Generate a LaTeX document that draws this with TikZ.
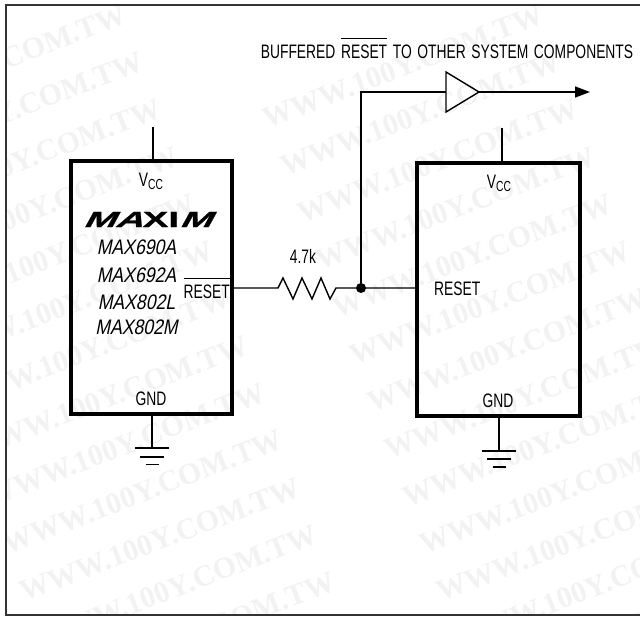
\documentclass[tikz,border=0pt]{standalone}
\usepackage{fontspec}
\setmainfont[FakeStretch=0.71]{Liberation Sans}
\newfontfamily\partfont[FakeStretch=0.84,FakeSlant=0.2]{Liberation Sans}
\newfontfamily\markfont{Liberation Serif}
\newfontfamily\logofont[FakeStretch=1.75,FakeBold=1]{Liberation Sans}
\newfontfamily\logoslant[FakeStretch=1.75,FakeBold=1,FakeSlant=0.55]{Liberation Sans}
\usetikzlibrary{arrows.meta}
\usetikzlibrary{calc}
\newcommand{\barred}[1]{$\overline{\mbox{\rule{0pt}{19pt}#1}}$}
\newcommand{\vcclabel}{V\raisebox{-2.5pt}{\fontsize{14.5}{15}\selectfont CC}}
\tikzset{
    wire/.style={line width=1.4pt},
    icbox/.style={draw, line width=4pt, minimum width=161pt, minimum height=253pt, outer sep=0pt, inner sep=0pt},
    lbl/.style={anchor=base, inner sep=0pt, font=\fontsize{19.5}{20}\selectfont},
    partlbl/.style={lbl, font=\fontsize{21}{22}\selectfont\partfont},
    wmark/.style={anchor=base east, rotate=21, inner sep=0pt, text=black!5, font=\fontsize{30}{31}\selectfont\markfont\bfseries}
}
\begin{document}
\begin{tikzpicture}[x=1pt,y=-1pt]
    \useasboundingbox (0,0) rectangle (640,616);
    \begin{scope}
        \clip (6,5) rectangle (640,615);
        \foreach \r in {-9,...,4}
            \foreach \c in {0,1,2}
                \node[wmark] at ({285+\c*417+\r*17.4},{448+\r*47.3}) {WWW.100Y.COM.TW};
    \end{scope}
    \draw[line width=2pt, black!80] (640,5)--(6,5)--(6,615)--(640,615);
    % the two chips
    \node[icbox] (maxchip) at (151.5,287.5) {};
    \node[icbox, minimum width=163pt] (syschip) at (498.5,289.5) {};
    % supply stubs
    \coordinate (vcca) at (153,127);
    \coordinate (vccb) at (502,128);
    \coordinate (gnda) at (152,448);
    \coordinate (gndb) at (499,451);
    \draw[wire] (vcca)--(vcca |- maxchip.north);
    \draw[wire] (vccb)--(vccb |- syschip.north);
    \draw[wire] (gnda |- maxchip.south)--(gnda);
    \draw[wire] (gndb |- syschip.south)--(gndb);
    \draw[wire] ($(gnda)+(-17,0)$)--($(gnda)+(17,0)$);
    \draw[wire] ($(gnda)+(-12,9)$)--($(gnda)+(12,9)$);
    \draw[wire] ($(gnda)+(-6.5,16.5)$)--($(gnda)+(6.5,16.5)$);
    \draw[wire] ($(gndb)+(-17,0)$)--($(gndb)+(17,0)$);
    \draw[wire] ($(gndb)+(-12,8)$)--($(gndb)+(12,8)$);
    \draw[wire] ($(gndb)+(-6.5,16)$)--($(gndb)+(6.5,16)$);
    % reset line with resistor
    \coordinate (resin) at (278,288);
    \coordinate (resout) at (336,288);
    \coordinate (tee) at (361,288);
    \coordinate (bend) at (361,92);
    \coordinate (bufin) at (446,92);
    \coordinate (bufout) at (479,92);
    \coordinate (outend) at (590,92);
    \draw[wire] (maxchip.east |- resin)--(resin)--(283,278)--(293,299)--(302,278)--(312,299)--(321,278)--(330,299)--(resout)--(tee)--(syschip.west |- tee);
    \fill (tee) circle (5pt);
    \draw[wire] (tee)--(bend)--(bufin);
    \draw[wire, line join=miter] (446,72)--(bufout)--(446,112)--cycle;
    \draw[wire, -{Stealth[length=15pt,width=11pt,inset=0pt]}] (bufout)--(outend);
    % texts
    \node[lbl] (caption) at (447,58.5) {\spaceskip=5.6pt\relax BUFFERED \barred{RESET} TO OTHER SYSTEM COMPONENTS};
    \node[lbl] (vcclabela) at (151,186.5) {\vcclabel};
    \node[lbl] (vcclabelb) at (499,188.5) {\vcclabel};
    \node[anchor=base, inner sep=0pt, font=\fontsize{22}{24}\selectfont\bfseries] (logo) at (147,227) {{\logoslant MA}{\logofont XI}{\logoslant M}};
    \node[partlbl] (parta) at (136.5,254) {MAX690A};
    \node[partlbl] (partb) at (136.5,282) {MAX692A};
    \node[partlbl] (partc) at (136.5,309) {MAX802L};
    \node[partlbl] (partd) at (136.5,334) {MAX802M};
    \node[lbl, anchor=base east] (resetbar) at (230,298.5) {\barred{RESET}};
    \node[lbl, anchor=base west] (resetin) at (434,295.5) {RESET};
    \node[lbl] (rval) at (303,263.5) {4.7k};
    \node[lbl] (gndlabela) at (151,405.5) {GND};
    \node[lbl] (gndlabelb) at (498,407.5) {GND};
\end{tikzpicture}
\end{document}
